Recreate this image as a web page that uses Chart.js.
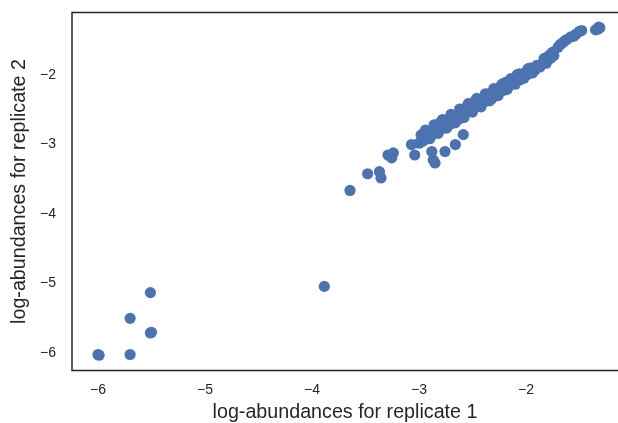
<!DOCTYPE html>
<html>
<head>
<meta charset="utf-8">
<script src="https://cdn.jsdelivr.net/npm/chart.js@4/dist/chart.umd.min.js"></script>
<style>
  html, body { margin: 0; padding: 0; background: #ffffff; }
  canvas { display: block; }
</style>
</head>
<body>
<canvas id="chart" width="618" height="423"></canvas>
<script>
// log-abundances of each transcript in replicate 1 (x) and replicate 2 (y)
const rep1 = [
  // low-abundance transcripts
  -6.00, -5.99, -5.70, -5.70, -5.51, -5.51, -5.50, -3.885,
  // lower tail of the main cloud
  -3.645, -3.48, -3.37, -3.355, -3.29, -3.255, -3.24, -3.07, -3.04, -3.00, -2.96,
  -2.88, -2.867, -2.85, -2.757, -2.66, -2.586,
  // dense band
  -2.98, -2.95, -2.92, -2.89, -2.86, -2.83, -2.80, -2.77, -2.74, -2.71, -2.68, -2.65, -2.62,
  -2.59, -2.56, -2.53, -2.50, -2.47, -2.44, -2.41, -2.38, -2.35, -2.32, -2.29, -2.26, -2.23,
  -2.20, -2.17, -2.14, -2.11, -2.08, -2.05, -2.02, -1.99, -1.96, -1.93, -1.90, -1.87,
  -2.965, -2.935, -2.905, -2.875, -2.845, -2.815, -2.785, -2.755, -2.725, -2.695, -2.665,
  -2.635, -2.605, -2.575, -2.545, -2.515, -2.485, -2.455, -2.425, -2.395, -2.365, -2.335,
  -2.305, -2.275, -2.245, -2.215, -2.185, -2.155, -2.125, -2.095, -2.065, -2.035, -2.005,
  -1.975, -1.945, -1.915,
  -2.94, -2.90, -2.86, -2.82, -2.78, -2.74, -2.70, -2.66, -2.62, -2.58, -2.54, -2.50, -2.46,
  -2.42, -2.38, -2.34, -2.30, -2.26, -2.22, -2.18, -2.14, -2.10, -2.06, -2.02, -1.98, -1.94,
  -1.85, -1.83, -1.81, -1.79, -1.77, -1.75, -1.74,
  // most abundant transcripts
  -1.86, -1.84, -1.82, -1.80, -1.78, -1.77, -1.75, -1.70, -1.68, -1.66, -1.64, -1.62,
  -1.58, -1.55, -1.53, -1.50, -1.48, -1.35, -1.33, -1.31, -1.32
];
const rep2 = [
  -6.02, -6.03, -6.02, -5.50, -5.13, -5.71, -5.70, -5.04,
  -3.66, -3.42, -3.39, -3.48, -3.15, -3.19, -3.12, -3.00, -3.15, -2.98, -2.95,
  -3.10, -3.22, -3.265, -3.10, -3.00, -2.857,
  -2.861, -2.922, -2.844, -2.885, -2.767, -2.788, -2.679, -2.761, -2.682, -2.614, -2.655, -2.576, -2.628,
  -2.489, -2.521, -2.452, -2.503, -2.365, -2.416, -2.358, -2.379, -2.270, -2.342, -2.233, -2.255, -2.146,
  -2.168, -2.189, -2.080, -2.102, -1.993, -2.065, -1.986, -1.997, -1.899, -1.930, -1.862, -1.883,
  -2.927, -2.828, -2.889, -2.791, -2.782, -2.794, -2.675, -2.706, -2.638, -2.699, -2.601,
  -2.612, -2.514, -2.575, -2.476, -2.488, -2.389, -2.451, -2.352, -2.363, -2.315, -2.346,
  -2.228, -2.259, -2.191, -2.222, -2.103, -2.135, -2.086, -2.098, -2.009, -2.030, -1.962,
  -1.963, -1.915, -1.926,
  -2.793, -2.915, -2.717, -2.838, -2.640, -2.762, -2.564, -2.686, -2.488, -2.610, -2.412, -2.533, -2.335,
  -2.457, -2.269, -2.371, -2.193, -2.295, -2.127, -2.209, -2.050, -2.132, -1.984, -2.046, -1.908, -1.970,
  -1.84, -1.76, -1.83, -1.73, -1.76, -1.67, -1.72,
  -1.86, -1.82, -1.80, -1.76, -1.72, -1.70, -1.69, -1.60, -1.56, -1.54, -1.51, -1.49,
  -1.45, -1.44, -1.41, -1.37, -1.36, -1.35, -1.34, -1.32, -1.31
];

const xTicks = [-6, -5, -4, -3, -2];
const yTicks = [-6, -5, -4, -3, -2];
const xTitle = 'log-abundances for replicate 1';
const yTitle = 'log-abundances for replicate 2';

const points = rep1.map((x, i) => ({ x: x, y: rep2[i] }));

const INK = '#262626';
const FONT = '"Liberation Sans", Arial, sans-serif';
const fmt = v => (v < 0 ? '\u2212' + Math.abs(v) : String(v));

// white canvas plus the axes frame (left, top and bottom spines)
const framePlugin = {
  id: 'frame',
  beforeDraw(chart) {
    const ctx = chart.ctx;
    ctx.save();
    ctx.fillStyle = '#ffffff';
    ctx.fillRect(0, 0, chart.width, chart.height);
    ctx.restore();
  },
  afterDatasetsDraw(chart) {
    const { left, top, bottom } = chart.chartArea;
    const ctx = chart.ctx;
    ctx.save();
    ctx.strokeStyle = INK;
    ctx.lineWidth = 1.5;
    ctx.beginPath();
    ctx.moveTo(chart.width, top);
    ctx.lineTo(left, top);
    ctx.lineTo(left, bottom);
    ctx.lineTo(chart.width, bottom);
    ctx.stroke();
    ctx.restore();
  }
};

new Chart(document.getElementById('chart'), {
  type: 'scatter',
  data: {
    datasets: [{
      data: points,
      backgroundColor: '#4C72B0',
      borderWidth: 0,
      pointRadius: 5.6,
      pointHoverRadius: 5.6
    }]
  },
  options: {
    responsive: false,
    animation: false,
    devicePixelRatio: 1,
    layout: { autoPadding: false, padding: { top: 12.5, right: 0, left: 0, bottom: 0 } },
    plugins: { legend: { display: false }, tooltip: { enabled: false } },
    scales: {
      x: {
        type: 'linear',
        min: -6.243,
        max: -1.14,
        grid: { display: false, drawTicks: false },
        border: { display: false },
        afterBuildTicks: axis => { axis.ticks = xTicks.map(v => ({ value: v })); },
        afterFit: axis => {
          axis.height = 52.5;
          axis.paddingLeft = 0;
          axis.paddingRight = 0;
        },
        ticks: {
          callback: v => fmt(v),
          color: INK,
          padding: 11,
          maxRotation: 0,
          font: { family: FONT, size: 14 }
        },
        title: {
          display: true,
          text: xTitle,
          color: INK,
          padding: { top: 0, bottom: 1 },
          font: { family: FONT, size: 19.7, lineHeight: 1 }
        }
      },
      y: {
        type: 'linear',
        min: -6.25,
        max: -1.10,
        grid: { display: false, drawTicks: false },
        border: { display: false },
        afterBuildTicks: axis => { axis.ticks = yTicks.map(v => ({ value: v })); },
        afterFit: axis => {
          axis.width = 72;
          axis.paddingTop = 0;
          axis.paddingBottom = 0;
        },
        ticks: {
          callback: v => fmt(v),
          color: INK,
          padding: 16,
          font: { family: FONT, size: 14 }
        },
        title: {
          display: true,
          text: yTitle,
          color: INK,
          padding: { top: 10, bottom: 0 },
          font: { family: FONT, size: 19.7, lineHeight: 1 }
        }
      }
    }
  },
  plugins: [framePlugin]
});
</script>
</body>
</html>
